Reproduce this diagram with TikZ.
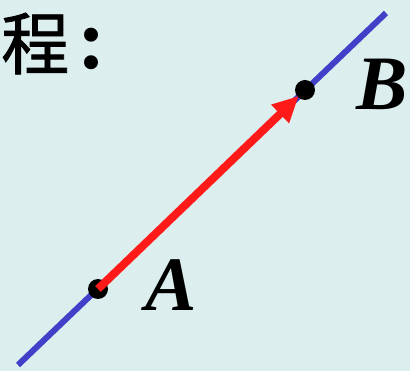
\documentclass[tikz,border=0pt]{standalone}
\usepackage{fontspec}
\setmainfont{Liberation Serif}
\newfontfamily\cjk{Noto Sans CJK SC}[FakeBold=1.2]
\usetikzlibrary{arrows.meta,calc}
\definecolor{bg}{RGB}{220,238,238}
\definecolor{lineblue}{RGB}{64,64,200}
\definecolor{vecred}{RGB}{255,26,26}
\begin{document}
\begin{tikzpicture}[x=1pt,y=-1pt,
  pt/.style={circle,fill=black,inner sep=0pt,minimum size=20pt},
  lbl/.style={font=\fontsize{77}{77}\selectfont\bfseries\itshape,inner sep=0pt},
  ttl/.style={font=\cjk\fontsize{68}{68}\selectfont,inner sep=0pt,anchor=base west}]
\fill[bg] (0,0) rectangle (410,371);
\useasboundingbox (0,0) rectangle (410,371);
\coordinate (L1) at (18,365);
\coordinate (L2) at (386,13);
\draw[lineblue,line width=6pt] (L1) -- (L2);
\node[pt] (A) at (98,289) {};
\node[pt] (B) at (305,90) {};
\draw[vecred,line width=8pt,-{Triangle[length=26pt,width=24pt]}] (A.center) -- ($(A.center)!0.97!(B.center)$);
\node[lbl] (la) at (171,285) {A};
\node[lbl] (lb) at (382,84) {B};
\node[ttl] (t) at (1,69) {程\hspace{8pt}{\rmfamily\bfseries\fontsize{86}{86}\selectfont :}};
\end{tikzpicture}
\end{document}
